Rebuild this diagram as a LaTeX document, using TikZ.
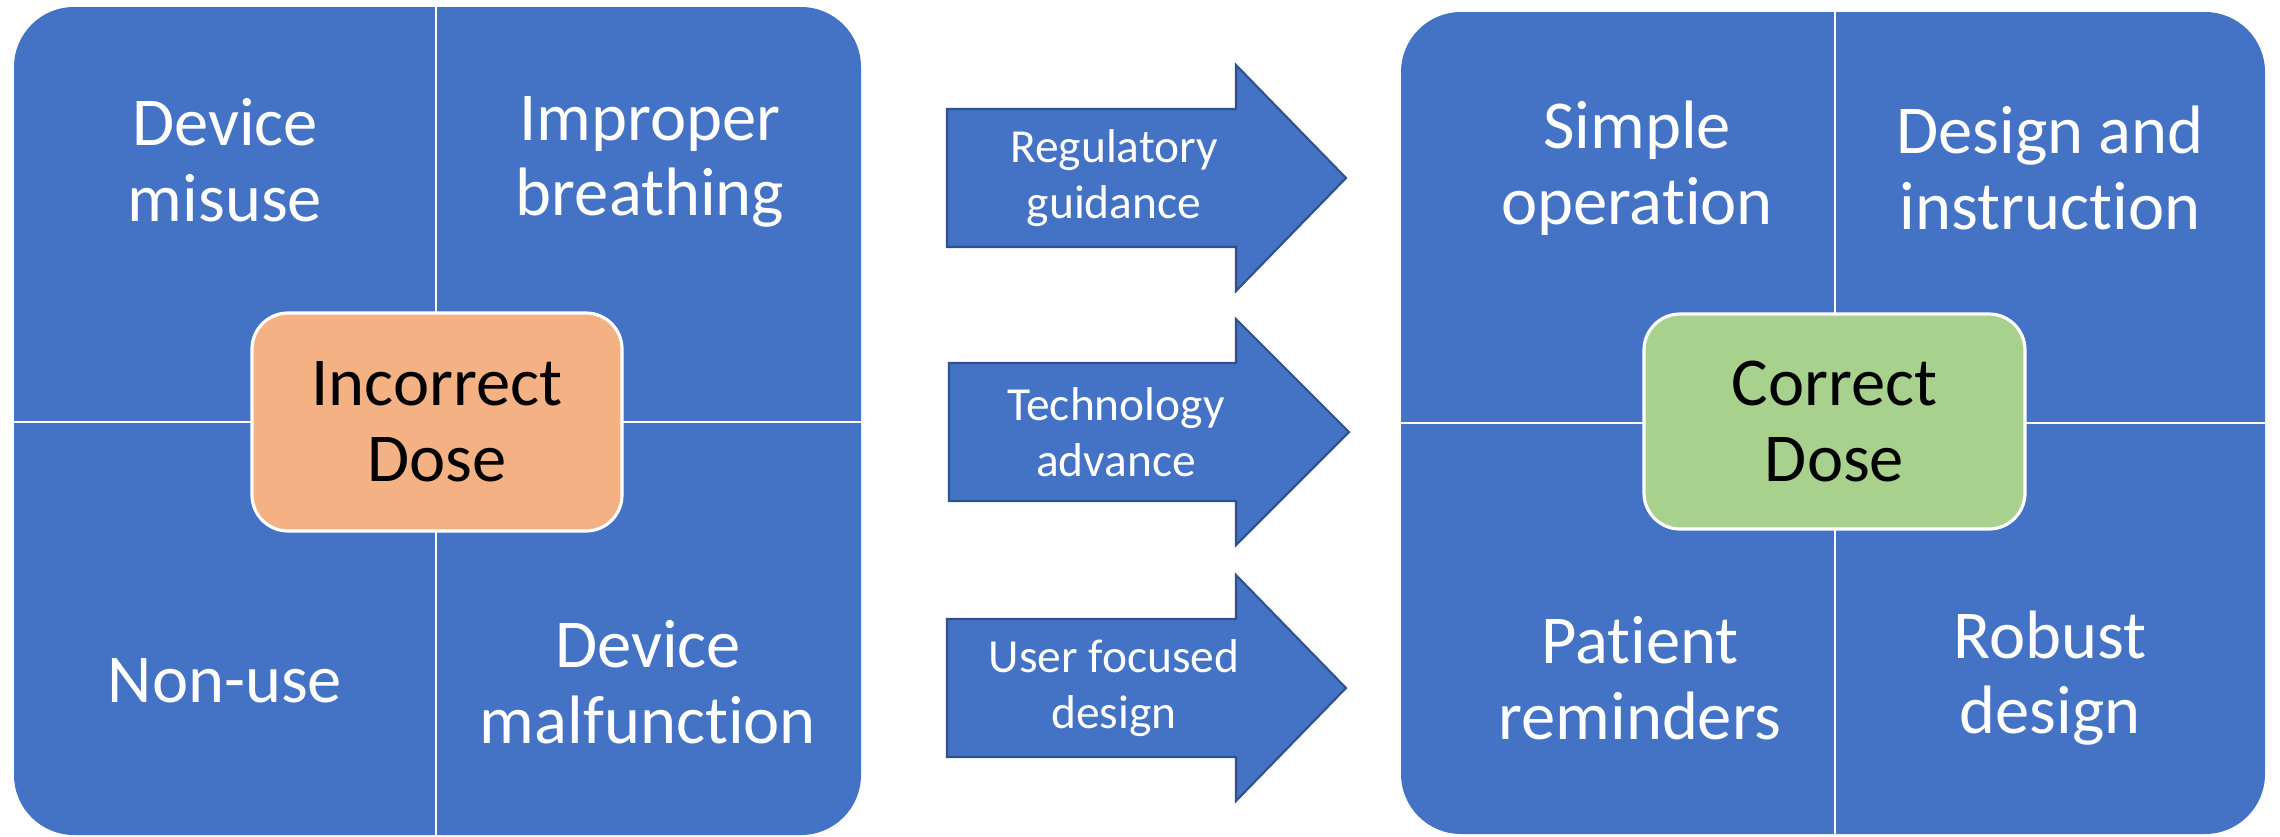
\documentclass[tikz,border=0pt]{standalone}
\usepackage{fontspec}
\setmainfont{Carlito}[RawFeature={-liga;-clig;-calt;-dlig}]
\definecolor{azul}{HTML}{4472C4}
\definecolor{azulosc}{HTML}{2F528F}
\definecolor{naranja}{HTML}{F4B183}
\definecolor{verde}{HTML}{A9D18E}
\newcommand{\ti}{t\kern0pt i}
\begin{document}
\begin{tikzpicture}[
    etiqueta/.style={text=white, align=center, font=\fontsize{19.5}{21.5}\selectfont},
    centro/.style={draw=white, line width=0.9pt, rounded corners=0.36cm, align=center,
                   font=\fontsize{19.5}{21.5}\selectfont},
    flecha/.style={fill=azul, draw=azulosc, line width=0.6pt},
    textoflecha/.style={text=white, align=center, font=\fontsize{13.5}{15.8}\selectfont}]
    \useasboundingbox (0,0) rectangle (22.8,8.36);

    % Panel izquierdo
    \fill[azul, rounded corners=0.6cm] (0.14,0.01) rectangle (8.61,8.29);
    \draw[white, line width=0.7pt] (4.36,0.01) -- (4.36,8.29);
    \draw[white, line width=0.7pt] (0.14,4.14) -- (8.61,4.14);

    \node[etiqueta] (maluso) at (2.25,6.76) {Device\\misuse};
    \node[etiqueta] (respiracion) at (6.50,6.74) {Improper\\breathing};
    \node[etiqueta] (nouso) at (2.25,1.55) {Non-use};
    \node[etiqueta] (fallo) at (6.48,1.54) {Device\\malfunc\ti on};

    \node[centro, fill=naranja, minimum width=3.70cm, minimum height=2.18cm] (incorrecta) at (4.37,4.14) {Incorrect\\Dose};

    % Flechas
    \draw[flecha] (9.47,5.89) -- (12.36,5.89) -- (12.36,5.45) -- (13.46,6.58) -- (12.36,7.71) -- (12.36,7.27) -- (9.47,7.27) -- cycle;
    \node[textoflecha] (regulacion) at (11.14,6.58) {Regulatory\\guidance};

    \draw[flecha] (9.49,3.35) -- (12.36,3.35) -- (12.36,2.91) -- (13.49,4.04) -- (12.36,5.17) -- (12.36,4.73) -- (9.49,4.73) -- cycle;
    \node[textoflecha] (tecnologia) at (11.16,4.04) {Technology\\advance};

    \draw[flecha] (9.47,0.79) -- (12.36,0.79) -- (12.36,0.35) -- (13.46,1.48) -- (12.36,2.61) -- (12.36,2.17) -- (9.47,2.17) -- cycle;
    \node[textoflecha] (usuario) at (11.14,1.48) {User focused\\design};

    % Panel derecho
    \fill[azul, rounded corners=0.6cm] (14.01,0.02) rectangle (22.65,8.24);
    \draw[white, line width=0.7pt] (18.35,0.02) -- (18.35,8.24);
    \draw[white, line width=0.7pt] (14.01,4.13) -- (22.65,4.13);

    \node[etiqueta] (simple) at (16.37,6.68) {Simple\\opera\ti on};
    \node[etiqueta] (diseno) at (20.50,6.68) {Design and\\instruc\ti on};
    \node[etiqueta] (recordatorio) at (16.40,1.58) {Patient\\reminders};
    \node[etiqueta] (robusto) at (20.50,1.58) {Robust\\design};

    \node[centro, fill=verde, minimum width=3.81cm, minimum height=2.15cm] (correcta) at (18.345,4.145) {Correct\\Dose};
\end{tikzpicture}
\end{document}
